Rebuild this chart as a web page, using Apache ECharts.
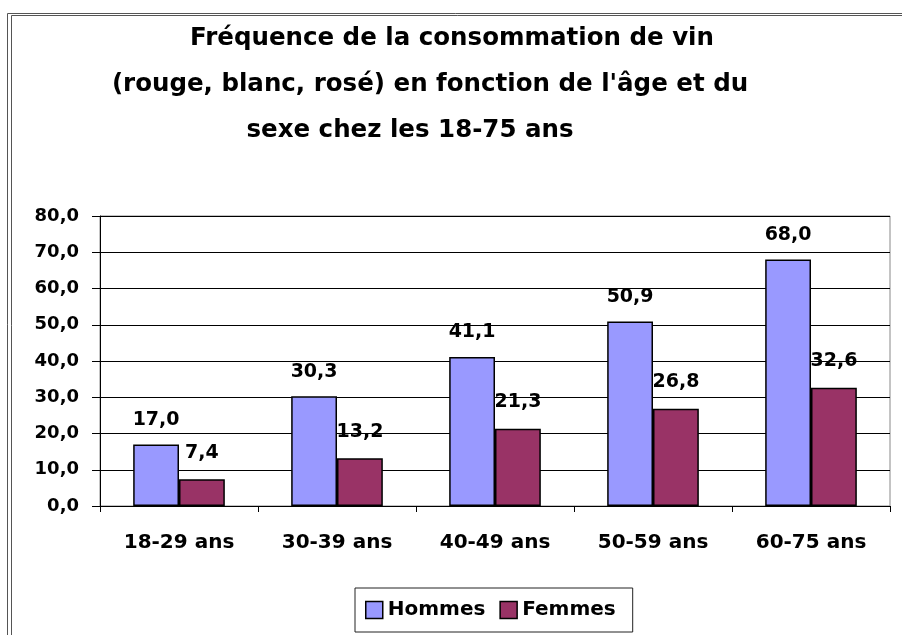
<!DOCTYPE html>
<html>
<head>
<meta charset="utf-8">
<script src="https://cdn.jsdelivr.net/npm/echarts@6/dist/echarts.min.js"></script>
<style>
html,body{margin:0;padding:0;background:#fff;}
#chart{width:902px;height:635px;}
</style>
</head>
<body>
<div id="chart"></div>
<script>
var categories = ['18-29 ans', '30-39 ans', '40-49 ans', '50-59 ans', '60-75 ans'];
var hommes = [17.0, 30.3, 41.1, 50.9, 68.0];
var femmes = [7.4, 13.2, 21.3, 26.8, 32.6];
var titleLines = ['Fréquence de la consommation de vin', "(rouge, blanc, rosé) en fonction de l'âge et du", 'sexe chez les 18-75 ans'];

var font = '"DejaVu Sans", sans-serif';
function fr(v){ return v.toFixed(1).replace('.', ','); }
function titleStyle(){ return {fontSize: 24.5, fontWeight: 'bold', color: '#000', fontFamily: font}; }

var chart = echarts.init(document.getElementById('chart'));
chart.setOption({
	animation: false,
	textStyle: {fontFamily: font},
	title: [
		{text: titleLines[0], left: 447, top: 21, textAlign: 'center', textStyle: titleStyle()},
		{text: titleLines[1], left: 425, top: 67, textAlign: 'center', textStyle: titleStyle()},
		{text: titleLines[2], left: 405, top: 113, textAlign: 'center', textStyle: titleStyle()}
	],
	graphic: [
		{type: 'rect', shape: {x: 7.5, y: 13.5, width: 1000, height: 1000}, style: {fill: 'none', stroke: '#555', lineWidth: 1}},
		{type: 'rect', shape: {x: 11.5, y: 15.5, width: 1000, height: 1000}, style: {fill: 'none', stroke: '#555', lineWidth: 1}}
	],
	legend: {
		data: ['Hommes', 'Femmes'],
		left: 355, top: 588,
		padding: [12, 17, 12, 10],
		borderColor: '#222', borderWidth: 1,
		itemWidth: 17, itemHeight: 17, itemGap: 14,
		icon: 'rect',
		itemStyle: {borderColor: '#000', borderWidth: 1.5},
		textStyle: {fontSize: 20, fontWeight: 'bold', color: '#000', fontFamily: font}
	},
	grid: {left: 100, right: 12, top: 216, bottom: 129, show: true, borderColor: '#888', borderWidth: 1},
	xAxis: {
		type: 'category',
		data: categories,
		axisLine: {lineStyle: {color: '#000', width: 1}},
		axisTick: {show: true, length: 6, lineStyle: {color: '#000'}},
		axisLabel: {fontSize: 20, fontWeight: 'bold', color: '#000', margin: 27, fontFamily: font}
	},
	yAxis: {
		type: 'value',
		min: 0, max: 80, interval: 10,
		axisLine: {show: true, lineStyle: {color: '#000'}},
		axisTick: {show: true, length: 8, lineStyle: {color: '#000'}},
		splitLine: {lineStyle: {color: '#000', width: 1}},
		axisLabel: {fontSize: 18, fontWeight: 'bold', color: '#000', margin: 21, formatter: fr, fontFamily: font}
	},
	series: [{
		name: 'Hommes',
		type: 'bar',
		data: hommes,
		barGap: '0%',
		barCategoryGap: '42%',
		itemStyle: {color: '#9999FF', borderColor: '#000', borderWidth: 1.5},
		label: {show: true, position: 'top', distance: 15, formatter: function(p){ return fr(p.value); }, fontSize: 19, fontWeight: 'bold', color: '#000', fontFamily: font}
	}, {
		name: 'Femmes',
		type: 'bar',
		data: femmes,
		itemStyle: {color: '#993366', borderColor: '#000', borderWidth: 1.5},
		label: {show: true, position: 'top', distance: 17, formatter: function(p){ return fr(p.value); }, fontSize: 19, fontWeight: 'bold', color: '#000', fontFamily: font}
	}]
});
</script>
</body>
</html>
